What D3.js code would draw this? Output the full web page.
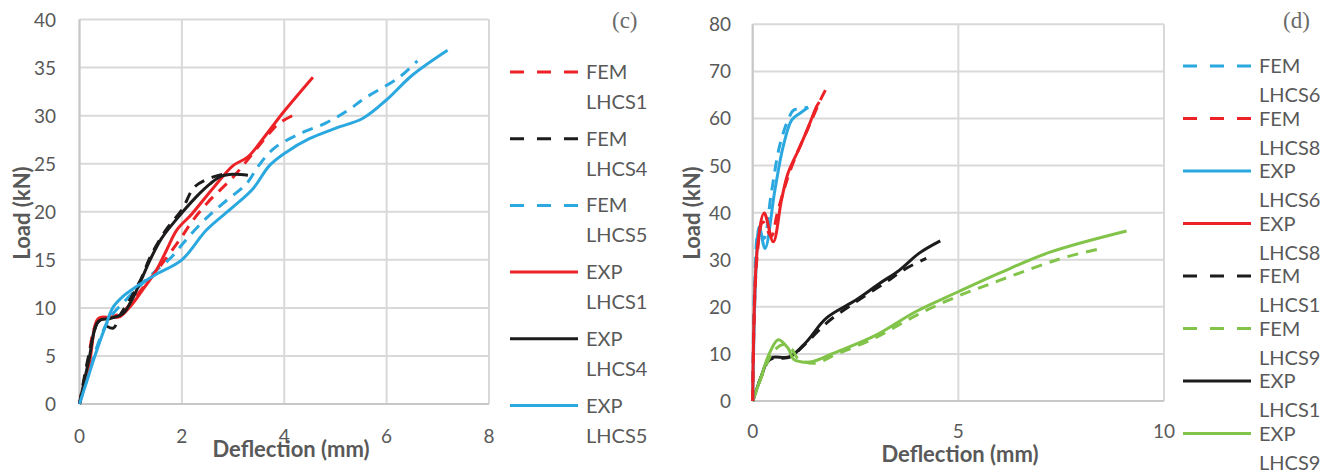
<!DOCTYPE html>
<html>
<head>
<meta charset="utf-8">
<script src="https://cdn.jsdelivr.net/npm/d3@7"></script>
<style>
  body { margin: 0; background: #fff; }
  text { font-family: Lato, "Open Sans", sans-serif; fill: #595959; }
  text.tag { font-family: "Liberation Serif", "DejaVu Serif", serif; fill: #6b6b6b; }
</style>
</head>
<body>
<div class="chart"></div>
<script>
// chart (c) data: [deflection mm, load kN]
var femLHCS1 = [[0,0],[0.15,4],[0.35,8.5],[0.6,9],[0.85,9.6],[1.0,10.5],[1.3,12.5],[1.6,14.5],[1.96,17.1],[2.2,19],[2.51,21],[3.0,23.6],[3.3,25.5],[3.65,27.8],[3.9,29.2],[4.2,30.1]];
var femLHCS4 = [[0,0],[0.2,5.5],[0.38,8.6],[0.5,8.2],[0.66,7.9],[0.8,9.3],[1.0,11],[1.2,13],[1.4,15.5],[1.7,18.2],[2.0,20.2],[2.25,22.6],[2.6,23.6],[2.9,24]];
var femLHCS5 = [[0,0],[0.2,3.5],[0.4,6.8],[0.6,9],[0.9,10.8],[1.2,12.4],[1.5,13.9],[1.8,15.3],[2.1,17.2],[2.51,19.5],[2.9,21.3],[3.26,22.9],[3.5,24.8],[3.8,26.6],[4.3,28.1],[4.8,29.2],[5.2,30.4],[5.6,31.9],[6.25,34],[6.6,35.7]];
var expLHCS1 = [[0,0],[0.2,4.5],[0.37,8.9],[0.6,9],[0.79,9.1],[1.0,10.2],[1.25,12],[1.5,13.9],[1.7,16],[1.9,18.1],[2.2,19.8],[2.6,22.4],[3.0,24.8],[3.29,25.7],[3.6,27.7],[3.99,30.4],[4.56,34]];
var expLHCS4 = [[0,0],[0.18,4.5],[0.37,8.6],[0.6,8.9],[0.85,9.4],[1.0,10.6],[1.18,12.6],[1.38,15],[1.6,17.2],[1.86,19],[2.29,21.6],[2.55,22.9],[2.77,23.7],[3.0,23.9],[3.29,23.8]];
var expLHCS5 = [[0,0],[0.15,2.5],[0.3,5],[0.5,8],[0.66,10.1],[0.85,11.2],[1.05,12],[1.5,13.5],[2.0,15],[2.48,18.1],[3.0,20.5],[3.39,22.4],[3.71,24.8],[4.04,26.2],[4.49,27.6],[5.01,28.7],[5.53,29.7],[5.99,31.6],[6.5,34.2],[7.19,36.8]];

// chart (d) data
var femLHCS6 = [[0,0],[0.05,25],[0.15,36],[0.27,34.5],[0.45,44],[0.65,54],[0.85,59.5],[1.0,61.8],[1.15,62],[1.34,62.4]];
var femLHCS8 = [[0,0],[0.1,30],[0.25,38],[0.45,35],[0.6,40],[0.8,46],[1.0,51],[1.3,57],[1.5,61],[1.65,64],[1.82,66.9]];
var expLHCS6 = [[0,0],[0.08,28],[0.16,37],[0.3,32.4],[0.54,44.8],[0.74,54],[0.95,59.7],[1.15,61.1],[1.35,62.4]];
var expLHCS8 = [[0,0],[0.12,33],[0.28,39.9],[0.5,33.8],[0.7,42.7],[0.86,48.4],[1.15,54],[1.39,59],[1.55,62.5],[1.62,63.5]];
var femLHCS1d = [[0,0],[0.2,5],[0.42,8.8],[0.9,9.3],[1.3,12.3],[1.8,16.6],[2.5,21],[3.2,25],[3.7,28],[4.22,30.3]];
var femLHCS9 = [[0,0],[0.3,7],[0.5,10.5],[0.75,12],[0.95,11],[1.1,9],[1.5,8],[2.0,9.8],[3.0,13.5],[4.0,18.3],[5.0,22.3],[6.0,25.6],[7.0,28.8],[7.63,30.6],[8.49,32.4]];
var expLHCS1d = [[0,0],[0.2,5],[0.42,9.1],[0.9,9.4],[1.31,12.6],[1.79,17.6],[2.52,21.5],[3.09,25],[3.57,27.8],[4.05,31.4],[4.56,34]];
var expLHCS9 = [[0,0],[0.2,5],[0.4,10],[0.62,13],[0.86,11.2],[0.99,8.9],[1.2,8.3],[1.47,8.4],[1.95,10.1],[3.0,14],[3.97,19],[5.0,23.2],[6.01,27.2],[7.23,31.6],[9.09,36.1]];

var xTicksC = [0, 2, 4, 6, 8],
    yTicksC = [0, 5, 10, 15, 20, 25, 30, 35, 40],
    xTicksD = [0, 5, 10],
    yTicksD = [0, 10, 20, 30, 40, 50, 60, 70, 80];

var red = "#ec2227", black = "#1c1c1c", blue = "#2aa8df", green = "#82c34a";

var seriesC = [
    {name: ["FEM", "LHCS1"], data: femLHCS1, color: red, dash: true},
    {name: ["FEM", "LHCS4"], data: femLHCS4, color: black, dash: true},
    {name: ["FEM", "LHCS5"], data: femLHCS5, color: blue, dash: true},
    {name: ["EXP", "LHCS1"], data: expLHCS1, color: red, dash: false},
    {name: ["EXP", "LHCS4"], data: expLHCS4, color: black, dash: false},
    {name: ["EXP", "LHCS5"], data: expLHCS5, color: blue, dash: false}
];
var seriesD = [
    {name: ["FEM", "LHCS6"], data: femLHCS6, color: blue, dash: true},
    {name: ["FEM", "LHCS8"], data: femLHCS8, color: red, dash: true},
    {name: ["EXP", "LHCS6"], data: expLHCS6, color: blue, dash: false},
    {name: ["EXP", "LHCS8"], data: expLHCS8, color: red, dash: false},
    {name: ["FEM", "LHCS1"], data: femLHCS1d, color: black, dash: true},
    {name: ["FEM", "LHCS9"], data: femLHCS9, color: green, dash: true},
    {name: ["EXP", "LHCS1"], data: expLHCS1d, color: black, dash: false},
    {name: ["EXP", "LHCS9"], data: expLHCS9, color: green, dash: false}
];
// drawing order (which line sits on top)
var drawOrderC = [0, 2, 1, 3, 4, 5];
var drawOrderD = [4, 6, 5, 7, 0, 2, 1, 3];

var svg = d3.select("div.chart")
            .append("svg")
            .attr("width", 1325)
            .attr("height", 474);

function drawPanel(opt) {
    var x = d3.scaleLinear().domain(opt.xDomain).range([opt.left, opt.right]),
        y = d3.scaleLinear().domain(opt.yDomain).range([opt.bottom, opt.top]);

    var g = svg.append("g");

    g.selectAll("line.hgrid")
        .data(opt.yTicks)
        .enter()
        .append("line")
        .attr("x1", opt.left).attr("x2", opt.right)
        .attr("y1", function(d) { return y(d); })
        .attr("y2", function(d) { return y(d); })
        .attr("stroke", "#d9d9d9")
        .attr("stroke-width", 2);

    g.selectAll("line.vgrid")
        .data(opt.xTicks)
        .enter()
        .append("line")
        .attr("y1", opt.top).attr("y2", opt.bottom)
        .attr("x1", function(d) { return x(d); })
        .attr("x2", function(d) { return x(d); })
        .attr("stroke", "#d9d9d9")
        .attr("stroke-width", 2);

    // axes: left and bottom, a touch darker
    g.append("line")
        .attr("x1", opt.left).attr("x2", opt.left)
        .attr("y1", opt.top).attr("y2", opt.bottom)
        .attr("stroke", "#c8c8c8").attr("stroke-width", 2);
    g.append("line")
        .attr("x1", opt.left).attr("x2", opt.right)
        .attr("y1", opt.bottom).attr("y2", opt.bottom)
        .attr("stroke", "#c8c8c8").attr("stroke-width", 2);

    g.selectAll("text.ytick")
        .data(opt.yTicks)
        .enter()
        .append("text")
        .text(function(d) { return d; })
        .attr("x", opt.yLabelX)
        .attr("y", function(d) { return y(d) + 7; })
        .attr("text-anchor", "end")
        .attr("font-size", "19px");

    g.selectAll("text.xtick")
        .data(opt.xTicks)
        .enter()
        .append("text")
        .text(function(d) { return d; })
        .attr("x", function(d) { return x(d); })
        .attr("y", opt.xLabelY)
        .attr("text-anchor", "middle")
        .attr("font-size", "19px");

    var line = d3.line()
        .x(function(d) { return x(d[0]); })
        .y(function(d) { return y(d[1]); })
        .curve(d3.curveCatmullRom.alpha(0.5));

    opt.order.forEach(function(i) {
        var s = opt.series[i];
        g.append("path")
            .attr("d", line(s.data))
            .attr("fill", "none")
            .attr("stroke", s.color)
            .attr("stroke-width", 3)
            .attr("stroke-linejoin", "round")
            .attr("stroke-dasharray", s.dash ? "11,8" : null);
    });

    g.append("text")
        .text("Deflection (mm)")
        .attr("x", opt.xTitleX)
        .attr("y", opt.xTitleY)
        .attr("text-anchor", "middle")
        .attr("font-size", "22px")
        .attr("font-weight", "bold");

    g.append("text")
        .text("Load (kN)")
        .attr("transform", "translate(" + opt.yTitleX + ",213) rotate(-90)")
        .attr("text-anchor", "middle")
        .attr("font-size", "22px")
        .attr("font-weight", "bold");

    g.append("text")
        .attr("class", "tag")
        .text(opt.tag)
        .attr("x", opt.tagX)
        .attr("y", 28)
        .attr("font-size", "23px");

    // legend
    var leg = g.selectAll("g.leg")
        .data(opt.series)
        .enter()
        .append("g")
        .attr("transform", function(d, i) {
            return "translate(0," + (opt.legTop + i * opt.legStep) + ")";
        });
    leg.append("line")
        .attr("x1", opt.legX).attr("x2", opt.legX + 68)
        .attr("y1", 0).attr("y2", 0)
        .attr("stroke", function(d) { return d.color; })
        .attr("stroke-width", 3)
        .attr("stroke-dasharray", function(d) { return d.dash ? "14,13" : null; });
    leg.append("text")
        .text(function(d) { return d.name[0]; })
        .attr("x", opt.legX + 76)
        .attr("y", 7)
        .attr("font-size", "20px");
    leg.append("text")
        .text(function(d) { return d.name[1]; })
        .attr("x", opt.legX + 76)
        .attr("y", 7 + opt.legLine)
        .attr("font-size", "20px");
}

drawPanel({
    series: seriesC, order: drawOrderC,
    xDomain: [0, 8], yDomain: [0, 40], xTicks: xTicksC, yTicks: yTicksC,
    left: 79.5, right: 489, top: 19.5, bottom: 404,
    yLabelX: 56, xLabelY: 443, xTitleX: 291, xTitleY: 457, yTitleX: 30,
    tag: "(c)", tagX: 612,
    legX: 510, legTop: 72, legStep: 66.7, legLine: 30
});

drawPanel({
    series: seriesD, order: drawOrderD,
    xDomain: [0, 10], yDomain: [0, 80], xTicks: xTicksD, yTicks: yTicksD,
    left: 752.7, right: 1164, top: 24.3, bottom: 401,
    yLabelX: 731, xLabelY: 438, xTitleX: 960, xTitleY: 462, yTitleX: 700,
    tag: "(d)", tagX: 1283,
    legX: 1183, legTop: 66, legStep: 52.5, legLine: 29
});
</script>
</body>
</html>
